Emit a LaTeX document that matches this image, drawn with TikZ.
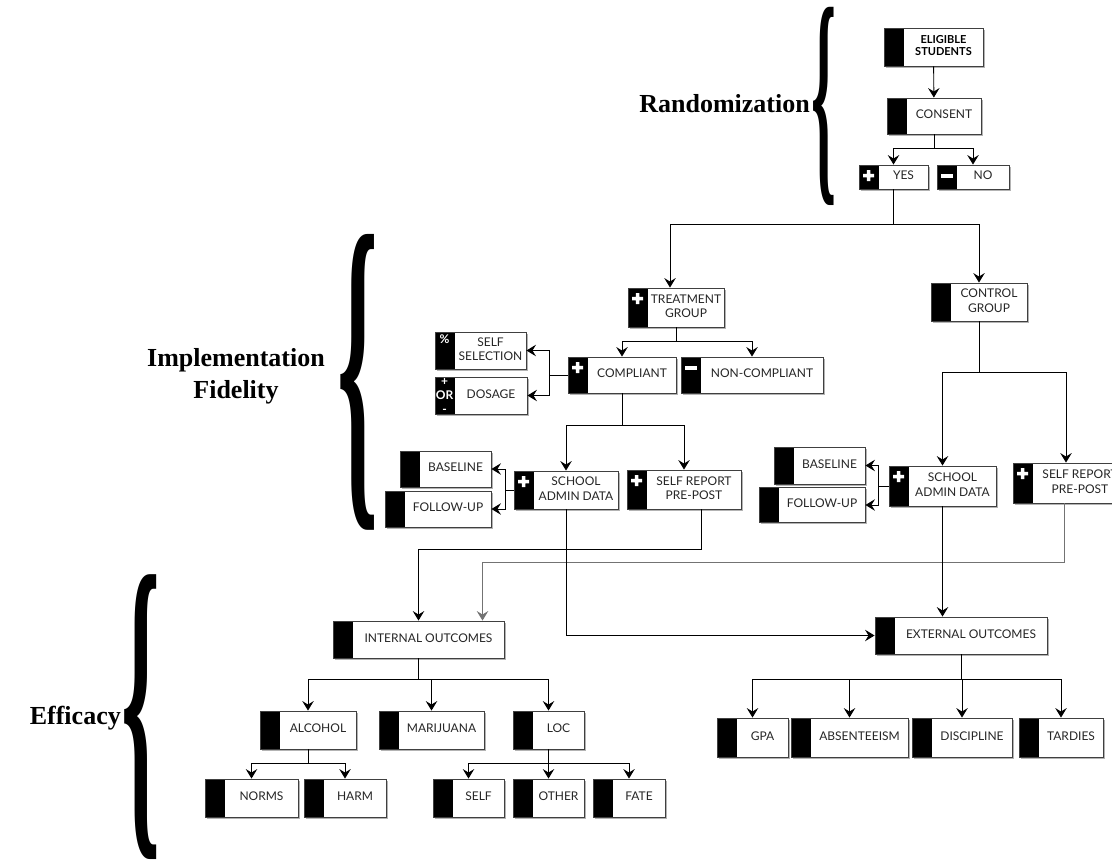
\documentclass[tikz,border=0pt]{standalone}
\usepackage{fontspec}
\setmainfont{Liberation Serif}
\newfontfamily\boxfont{Lato}
\usetikzlibrary{arrows.meta,shadows}

\newcommand{\cardtext}[1]{\hspace*{20pt}\begin{tabular}{@{}c@{}}#1\end{tabular}}
\newcommand{\plusicon}[1]{\fill[white] ([xshift=4.5pt,yshift=-9.2pt]#1.north west) rectangle ([xshift=15.5pt,yshift=-12.8pt]#1.north west) ([xshift=8.2pt,yshift=-5.5pt]#1.north west) rectangle ([xshift=11.8pt,yshift=-16.5pt]#1.north west);}
\newcommand{\minusicon}[1]{\fill[white] ([xshift=4pt,yshift=-9pt]#1.north west) rectangle ([xshift=16pt,yshift=-13pt]#1.north west);}

\tikzset{
  card/.style={draw=black!75, line width=0.9pt, fill=white, minimum height=37pt, inner sep=2pt,
    font=\boxfont\fontsize{12}{14.5}\selectfont, text=black!85,
    drop shadow={shadow xshift=1.8pt, shadow yshift=-1.8pt, fill=black!50, opacity=0.6},
    path picture={\fill[black] (path picture bounding box.north west) rectangle ([xshift=20pt]path picture bounding box.south west);}},
  arr/.style={-{Stealth[length=9.5pt,width=11.5pt,inset=3.5pt]}, line width=0.9pt},
  faint/.style={draw=black!55},
  brace/.style={inner sep=0pt, font=\bfseries},
  head/.style={font=\bfseries\fontsize{26}{32}\selectfont, align=center, inner sep=0pt},
  iconlbl/.style={text=white, font=\boxfont\bfseries\fontsize{12}{14}\selectfont, inner sep=0pt, align=center}
}

\begin{document}
\begin{tikzpicture}[x=1pt, y=-1pt]
    \useasboundingbox (0,0) rectangle (1112,862);

    \node[head, anchor=east] (rand) at (810,104) {Randomization};
    \node[head] (impl) at (236,376) {Implementation\\Fidelity};
    \node[head, anchor=east] (eff) at (121,718) {Efficacy};
    \node[brace] (rbrace) at (823.5,106.5) {\resizebox*{25pt}{198pt}{\{}};
    \node[brace] (ibrace) at (358,382.5) {\resizebox*{41pt}{295pt}{\{}};
    \node[brace] (ebrace) at (141,717) {\resizebox*{39pt}{284pt}{\{}};

    \node[card, minimum width=99pt, minimum height=38pt, font=\boxfont\bfseries\fontsize{11}{12.5}\selectfont, text=black] (elig) at (933.5,47) {\cardtext{ELIGIBLE\\STUDENTS}};
    \node[card, minimum width=94pt, minimum height=36pt] (consent) at (934,116) {\cardtext{CONSENT}};
    \node[card, minimum width=69pt, minimum height=24pt] (yes) at (893.5,177) {\cardtext{YES}};
    \node[card, minimum width=72pt, minimum height=24pt] (no) at (973,177) {\cardtext{NO}};

    \node[card, minimum width=96pt, minimum height=39pt] (treat) at (676,307.5) {\cardtext{TREATMENT\\GROUP}};
    \node[card, minimum width=96pt, minimum height=38pt] (ctrl) at (979,302) {\cardtext{CONTROL\\GROUP}};
    \node[card, minimum width=108pt, minimum height=36pt] (comp) at (622,375) {\cardtext{COMPLIANT}};
    \node[card, minimum width=142pt, minimum height=36pt] (noncomp) at (752,375) {\cardtext{NON-COMPLIANT}};
    \node[card, minimum width=91pt] (selfsel) at (480.5,350.5) {\cardtext{SELF\\SELECTION}};
    \node[card, minimum width=92pt] (dosage) at (481,395.5) {\cardtext{DOSAGE}};

    \node[card, minimum width=104pt, minimum height=38pt] (adminT) at (566,490) {\cardtext{SCHOOL\\ADMIN DATA}};
    \node[card, minimum width=114pt, minimum height=39pt] (reportT) at (684,489.5) {\cardtext{SELF REPORT\\PRE-POST}};
    \node[card, minimum width=91pt, minimum height=36pt] (baseT) at (445.5,469) {\cardtext{BASELINE}};
    \node[card, minimum width=106pt, minimum height=36pt] (followT) at (438,509) {\cardtext{FOLLOW-UP}};
    \node[card, minimum width=107pt, minimum height=40pt] (adminC) at (942.5,486) {\cardtext{SCHOOL\\ADMIN DATA}};
    \node[card, minimum width=114pt, minimum height=40pt] (reportC) at (1070,483) {\cardtext{SELF REPORT\\PRE-POST}};
    \node[card, minimum width=91pt] (baseC) at (819.5,465.5) {\cardtext{BASELINE}};
    \node[card, minimum width=106pt, minimum height=35pt] (followC) at (812,505) {\cardtext{FOLLOW-UP}};

    \node[card, minimum width=171pt] (inner) at (418.5,639.5) {\cardtext{INTERNAL OUTCOMES}};
    \node[card, minimum width=172pt] (outer) at (961,635.5) {\cardtext{EXTERNAL OUTCOMES}};
    \node[card, minimum width=71pt, minimum height=39pt] (gpa) at (752.5,737.5) {\cardtext{GPA}};
    \node[card, minimum width=117pt, minimum height=39pt] (absent) at (849.5,737.5) {\cardtext{ABSENTEEISM}};
    \node[card, minimum width=100pt, minimum height=39pt] (discip) at (962,737.5) {\cardtext{DISCIPLINE}};
    \node[card, minimum width=84pt, minimum height=39pt] (tardy) at (1061,737.5) {\cardtext{TARDIES}};
    \node[card, minimum width=96pt, minimum height=38pt] (alc) at (308,730) {\cardtext{ALCOHOL}};
    \node[card, minimum width=105pt, minimum height=38pt] (mj) at (431.5,730) {\cardtext{MARIJUANA}};
    \node[card, minimum width=71pt, minimum height=38pt] (loc) at (548.5,730) {\cardtext{LOC}};
    \node[card, minimum width=93pt, minimum height=38pt] (norms) at (251.5,798) {\cardtext{NORMS}};
    \node[card, minimum width=82pt, minimum height=38pt] (harm) at (345,798) {\cardtext{HARM}};
    \node[card, minimum width=71pt, minimum height=38pt] (self) at (468.5,798) {\cardtext{SELF}};
    \node[card, minimum width=71pt, minimum height=38pt] (other) at (548.5,798) {\cardtext{OTHER}};
    \node[card, minimum width=72pt, minimum height=38pt] (fate) at (629,798) {\cardtext{FATE}};

    \plusicon{yes}
    \minusicon{no}
    \plusicon{treat}
    \plusicon{comp}
    \minusicon{noncomp}
    \plusicon{adminT}
    \plusicon{reportT}
    \plusicon{adminC}
    \plusicon{reportC}
    \node[iconlbl] (pct) at ([xshift=10pt,yshift=-8pt]selfsel.north west) {\%};
    \node[iconlbl] (pm) at ([xshift=10pt]dosage.west) {+\\OR\\-};

    \draw[arr] (elig) -- (consent);
    \draw[arr] (consent.south) -- ++(0,14) -| (yes.north);
    \draw[arr] (consent.south) -- ++(0,14) -| (no.north);
    \draw[arr] (yes.south) -- ++(0,35) -| ([xshift=-6pt]treat.north);
    \draw[arr] (yes.south) -- ++(0,35) -| (ctrl.north);
    \draw[arr] (treat.south) -- ++(0,14) -| (comp.north);
    \draw[arr] (treat.south) -- ++(0,14) -| (noncomp.north);
    \draw[arr] (comp.west) -- ++(-18,0) |- (selfsel.east);
    \draw[arr] (comp.west) -- ++(-18,0) |- (dosage.east);
    \draw[arr] (comp.south) -- ++(0,32) -| (adminT.north);
    \draw[arr] (comp.south) -- ++(0,32) -| (reportT.north);
    \draw[arr] (adminT.west) -- ++(-8,0) |- (baseT.east);
    \draw[arr] (adminT.west) -- ++(-8,0) |- (followT.east);
    \draw[arr] (ctrl.south) -- ++(0,51) -| (adminC.north);
    \draw[arr] (ctrl.south) -- ++(0,51) -| ([xshift=-4pt]reportC.north);
    \draw[arr] (adminC.west) -- ++(-10,0) |- (baseC.east);
    \draw[arr] (adminC.west) -- ++(-10,0) |- (followC.east);

    \draw[arr] ([xshift=17pt]reportT.south) -- ++(0,40) -| (inner.north);
    \draw[arr, faint] ([xshift=-6pt]reportC.south) -- ++(0,59) -| ([xshift=64pt]inner.north);
    \draw[arr] (adminT.south) |- (outer.west);
    \draw[arr] (adminC.south) -- (adminC.south |- outer.north);

    \draw[arr] (outer.south) -- ++(0,25) -| (gpa.north);
    \draw[arr] (outer.south) -- ++(0,25) -| (absent.north);
    \draw[arr] (outer.south) -- ++(0,25) -| (discip.north);
    \draw[arr] (outer.south) -- ++(0,25) -| (tardy.north);
    \draw[arr] (inner.south) -- ++(0,21) -| (alc.north);
    \draw[arr] (inner.south) -- ++(0,21) -| (mj.north);
    \draw[arr] (inner.south) -- ++(0,21) -| (loc.north);
    \draw[arr] (alc.south) -- ++(0,14) -| (norms.north);
    \draw[arr] (alc.south) -- ++(0,14) -| (harm.north);
    \draw[arr] (loc.south) -- ++(0,14) -| (self.north);
    \draw[arr] (loc.south) -- ++(0,14) -| (other.north);
    \draw[arr] (loc.south) -- ++(0,14) -| (fate.north);
\end{tikzpicture}
\end{document}
